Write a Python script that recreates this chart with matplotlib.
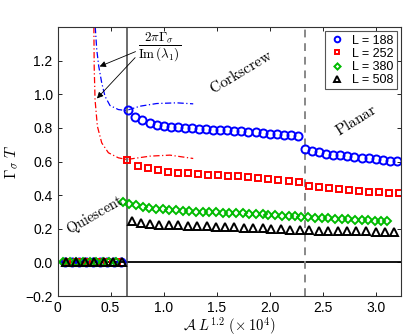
import matplotlib
matplotlib.use('Agg')
import matplotlib.pyplot as plt
from matplotlib.ticker import FuncFormatter

plt.rcParams['font.family'] = ['Liberation Sans', 'DejaVu Sans']
plt.rcParams['mathtext.fontset'] = 'cm'

# x = A L^1.2 (x 1e4), y = Gamma_sigma T
x188 = [0.07, 0.136, 0.203, 0.27, 0.336, 0.402, 0.47, 0.535, 0.60,
        0.668, 0.734, 0.801, 0.868, 0.934, 1.001, 1.068, 1.134, 1.201, 1.268,
        1.334, 1.401, 1.468, 1.534, 1.601, 1.668, 1.734, 1.801, 1.868, 1.934,
        2.001, 2.068, 2.134, 2.201, 2.268,
        2.334, 2.401, 2.468, 2.534, 2.601, 2.668, 2.734, 2.801, 2.868, 2.934,
        3.001, 3.068, 3.134, 3.201]
y188 = [0, 0, 0, 0, 0, 0, 0, 0, 0,
        0.909, 0.866, 0.846, 0.830, 0.820, 0.814, 0.808, 0.804, 0.800, 0.798,
        0.794, 0.792, 0.790, 0.788, 0.786, 0.784, 0.782, 0.778, 0.774, 0.771,
        0.765, 0.762, 0.759, 0.755, 0.753,
        0.676, 0.665, 0.656, 0.646, 0.640, 0.636, 0.632, 0.626, 0.622, 0.618,
        0.614, 0.610, 0.606, 0.602]

x252 = [0.089, 0.184, 0.279, 0.374, 0.469, 0.564,
        0.659, 0.763, 0.857, 0.951, 1.046, 1.14, 1.234, 1.329, 1.423, 1.517,
        1.611, 1.706, 1.80, 1.894, 1.986, 2.08, 2.18, 2.275,
        2.37, 2.464, 2.558, 2.653, 2.747, 2.84, 2.94, 3.03, 3.125, 3.22]
y252 = [0, 0, 0, 0, 0, 0,
        0.608, 0.576, 0.559, 0.547, 0.539, 0.533, 0.529, 0.525, 0.521, 0.519,
        0.515, 0.511, 0.507, 0.501, 0.497, 0.491, 0.487, 0.481,
        0.457, 0.447, 0.440, 0.434, 0.428, 0.424, 0.420, 0.416, 0.412, 0.410]

x380 = [0.053, 0.116, 0.178, 0.24, 0.303, 0.365, 0.427, 0.49, 0.552,
        0.615, 0.678, 0.74, 0.804, 0.866, 0.929, 0.992, 1.055, 1.118, 1.181,
        1.243, 1.307, 1.37, 1.432, 1.495, 1.558, 1.621, 1.684, 1.747, 1.81,
        1.873, 1.936, 1.99, 2.055, 2.118, 2.18, 2.243, 2.30, 2.363, 2.426,
        2.49, 2.55, 2.615, 2.68, 2.74, 2.805, 2.87, 2.93, 2.99, 3.055, 3.11]
y380 = [0, 0, 0, 0, 0, 0, 0, 0, 0,
        0.361, 0.350, 0.339, 0.331, 0.323, 0.319, 0.315, 0.311, 0.309, 0.305,
        0.303, 0.301, 0.299, 0.299, 0.297, 0.295, 0.293, 0.291, 0.291, 0.289,
        0.287, 0.285, 0.283, 0.279, 0.278, 0.275, 0.273, 0.271, 0.269, 0.267,
        0.265, 0.263, 0.261, 0.259, 0.257, 0.255, 0.253, 0.251, 0.249, 0.249, 0.247]

x508 = [0.082, 0.17, 0.259, 0.347, 0.435, 0.524, 0.612,
        0.70, 0.788, 0.873, 0.96, 1.055, 1.14, 1.228, 1.319, 1.407, 1.495,
        1.583, 1.668, 1.76, 1.847, 1.936, 2.017, 2.108, 2.196, 2.285, 2.376,
        2.464, 2.552, 2.643, 2.73, 2.82, 2.91, 3.0, 3.087, 3.17]
y508 = [0, 0, 0, 0, 0, 0, 0,
        0.245, 0.236, 0.230, 0.224, 0.222, 0.220, 0.218, 0.216, 0.214, 0.212,
        0.210, 0.208, 0.206, 0.204, 0.203, 0.198, 0.196, 0.194, 0.192, 0.190,
        0.189, 0.188, 0.187, 0.186, 0.185, 0.184, 0.183, 0.182, 0.180]

# 2 pi Gamma_sigma / Im(lambda_1) curves
xb_curve = [0.356, 0.37, 0.389, 0.417, 0.448, 0.495, 0.574, 0.646, 0.778, 0.936, 1.124, 1.28]
yb_curve = [1.40, 1.266, 1.166, 1.068, 0.988, 0.933, 0.909, 0.903, 0.929, 0.945, 0.949, 0.943]
xr_curve = [0.343, 0.346, 0.354, 0.376, 0.417, 0.48, 0.574, 0.653, 0.873, 1.06, 1.28]
yr_curve = [1.40, 1.166, 0.968, 0.81, 0.711, 0.652, 0.622, 0.612, 0.632, 0.638, 0.618]

x_quiescent = 0.653
x_planar = 2.335

fig = plt.figure(figsize=(4.07, 3.36), dpi=100)
ax = fig.add_axes([0.1413, 0.119, 0.844, 0.8006])

ax.axhline(0, color='k', lw=1.3, zorder=1)
ax.axvline(x_quiescent, color='#444444', lw=1.1, zorder=1)
ax.axvline(x_planar, color='#888888', lw=1.4, ls=(0, (4, 3)), zorder=1)

ax.plot(xr_curve, yr_curve, color='r', ls='-.', lw=0.9, dashes=(5, 2, 1, 2))
ax.plot(xb_curve, yb_curve, color='b', ls='-.', lw=0.9, dashes=(5, 2, 1, 2))

mk = dict(ls='none', mfc='none', mew=1.4)
ax.plot(x188, y188, marker='o', color='b', ms=5.8, label='L = 188', **mk)
ax.plot(x252, y252, marker='s', color='r', ms=4.8, label='L = 252', **mk)
ax.plot(x380, y380, marker='D', color='#00bb00', ms=4.5, label='L = 380', **mk)
ax.plot(x508, y508, marker='^', color='k', ms=5.2, label='L = 508', **mk)

ax.annotate('', xy=(0.373, 1.159), xytext=(0.76, 1.26),
            arrowprops=dict(arrowstyle='-|>', color='k', lw=0.6, mutation_scale=9))
ax.annotate('', xy=(0.354, 0.963), xytext=(0.75, 1.23),
            arrowprops=dict(arrowstyle='-|>', color='k', lw=0.6, mutation_scale=9))
ax.text(0.967, 1.277, r'$\dfrac{2\pi\Gamma_\sigma}{\mathrm{Im}\,(\lambda_1)}$',
        fontsize=9.5, ha='center', va='center')

ax.text(1.728, 1.131, r'$\mathrm{Corkscrew}$', rotation=31, fontsize=11,
        ha='center', va='center')
ax.text(2.816, 0.848, r'$\mathrm{Planar}$', rotation=32, fontsize=11,
        ha='center', va='center')
ax.text(0.35, 0.281, r'$\mathrm{Quiescent}$', rotation=30, fontsize=10.5,
        ha='center', va='center')

ax.set_xlim(0, 3.24)
ax.set_ylim(-0.2, 1.4)
ax.set_xticks([0, 0.5, 1.0, 1.5, 2.0, 2.5, 3.0])
ax.set_yticks([-0.2, 0, 0.2, 0.4, 0.6, 0.8, 1.0, 1.2])
ax.xaxis.set_major_formatter(FuncFormatter(lambda v, p: '0' if v == 0 else '%.1f' % v))
ax.yaxis.set_major_formatter(FuncFormatter(lambda v, p: ('%.1f' % v).replace('-', '\u2212')))
ax.tick_params(direction='in', top=True, right=True, labelsize=10, length=3, width=0.6)
for s in ax.spines.values():
    s.set_linewidth(0.8)
    s.set_color('#333333')

ax.set_xlabel(r'$\mathcal{A}\ L^{1.2}\ (\times\,10^4)$', fontsize=10.5, labelpad=0)
ax.set_ylabel(r'$\Gamma_\sigma\ T$', fontsize=11, labelpad=4)

leg = ax.legend(loc='upper right', fontsize=9, markerscale=0.7, handletextpad=0.5,
                borderaxespad=0.35, borderpad=0.25, labelspacing=0.1, handlelength=1.4,
                fancybox=False, framealpha=1)
leg.get_frame().set_edgecolor('#555555')
leg.get_frame().set_linewidth(0.8)

fig.savefig('out.png', dpi=100)
